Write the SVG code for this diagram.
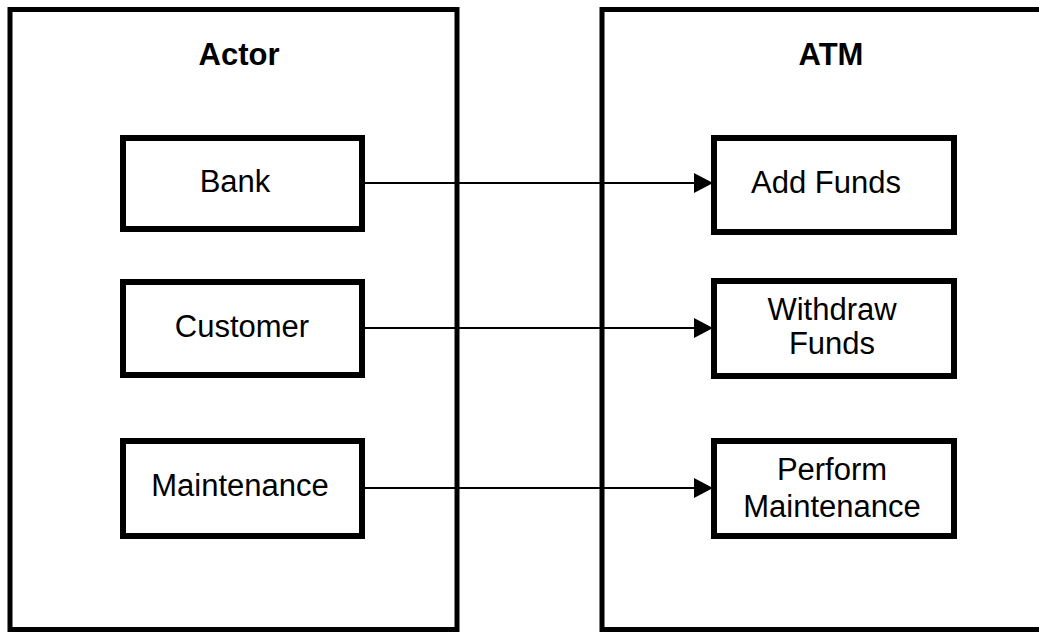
<svg xmlns="http://www.w3.org/2000/svg" width="1039" height="632" viewBox="0 0 1039 632">
<defs>
<style>
.frame{fill:none;stroke:#000;stroke-width:5}
.box{fill:#fff;stroke:#000;stroke-width:6}
.title{font-family:"Liberation Sans",Arial,sans-serif;font-size:31px;font-weight:bold;text-anchor:middle;fill:#000}
.lbl{font-family:"Liberation Sans",Arial,sans-serif;font-size:31px;text-anchor:middle;fill:#000}
.conn{stroke:#000;stroke-width:2;fill:none}
</style>
<marker id="arr" markerWidth="19" markerHeight="20" refX="19" refY="10" orient="auto" markerUnits="userSpaceOnUse">
<path d="M0,0 L19,10 L0,20 Z" fill="#000"/>
</marker>
</defs>
<rect width="1039" height="632" fill="#fff"/>
<g id="actor">
<rect class="frame" x="10" y="9.5" width="447" height="620"/>
<text class="title" x="239" y="65">Actor</text>
</g>
<g id="atm">
<rect class="frame" x="602" y="9.5" width="460" height="620"/>
<text class="title" x="831" y="65">ATM</text>
</g>
<g id="connectors">
<line class="conn" x1="365" y1="183" x2="713" y2="183" marker-end="url(#arr)"/>
<line class="conn" x1="365" y1="328" x2="713" y2="328" marker-end="url(#arr)"/>
<line class="conn" x1="365" y1="488" x2="713" y2="488" marker-end="url(#arr)"/>
</g>
<g id="bank">
<rect class="box" x="123" y="138" width="239" height="91"/>
<text class="lbl" x="235" y="192">Bank</text>
</g>
<g id="customer">
<rect class="box" x="123" y="282" width="239" height="93"/>
<text class="lbl" x="242" y="337">Customer</text>
</g>
<g id="maintenance">
<rect class="box" x="123" y="441" width="239" height="95"/>
<text class="lbl" x="240" y="496">Maintenance</text>
</g>
<g id="add-funds">
<rect class="box" x="714" y="138" width="240" height="94"/>
<text class="lbl" x="826" y="193">Add Funds</text>
</g>
<g id="withdraw-funds">
<rect class="box" x="714" y="281" width="240" height="95"/>
<text class="lbl" x="832" y="320">Withdraw</text>
<text class="lbl" x="832" y="354">Funds</text>
</g>
<g id="perform-maintenance">
<rect class="box" x="714" y="441" width="240" height="95"/>
<text class="lbl" x="832" y="480">Perform</text>
<text class="lbl" x="832" y="517">Maintenance</text>
</g>
</svg>
